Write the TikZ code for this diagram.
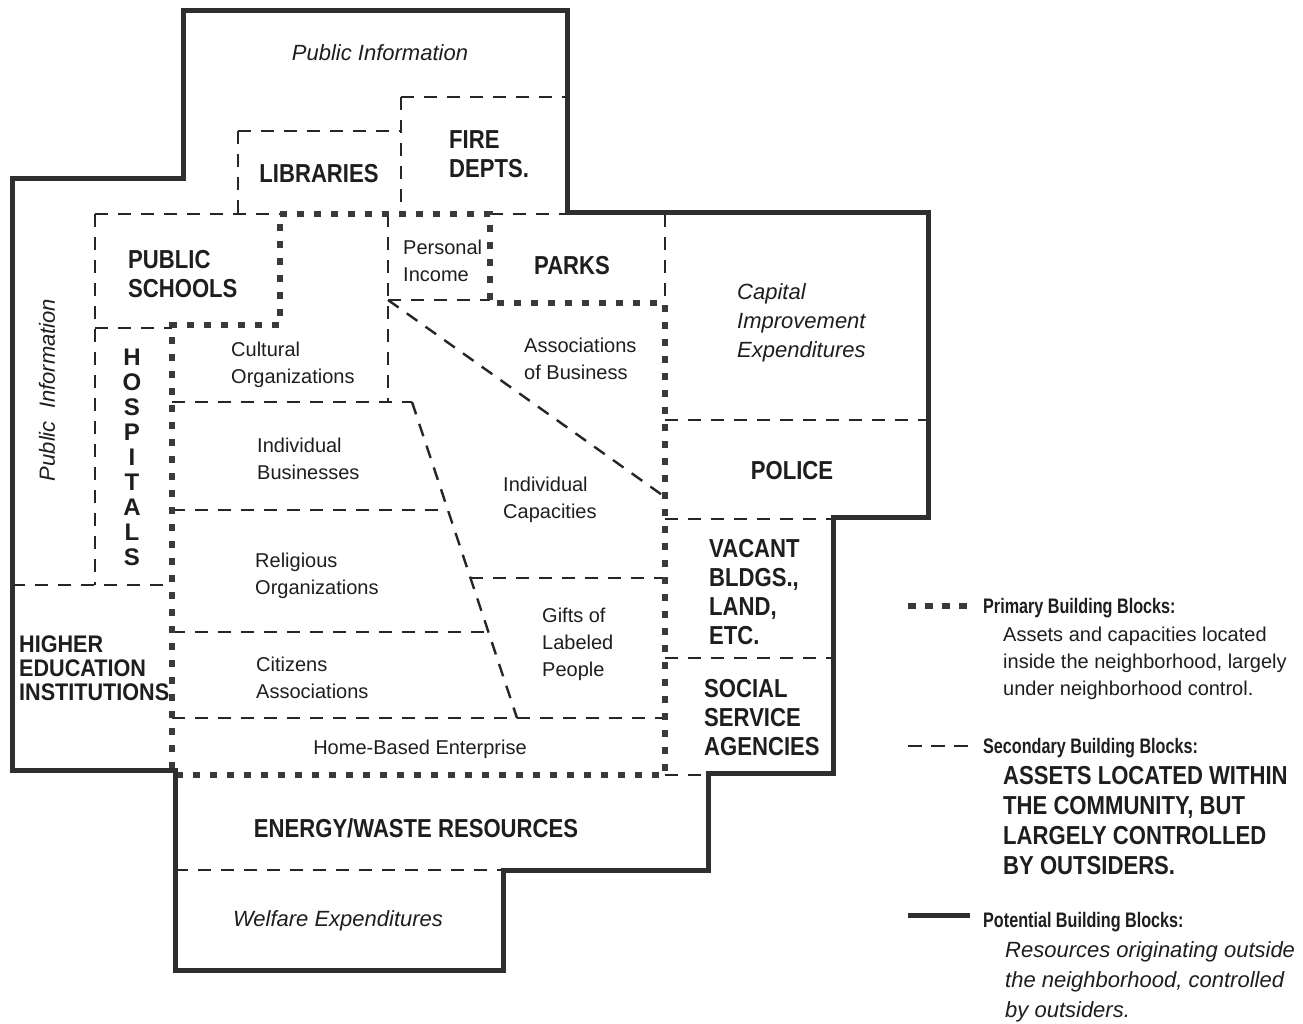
\documentclass[tikz,border=0pt]{standalone}
\usepackage{fontspec}
\setmainfont{Liberation Sans}
\newfontfamily\bfcond[FakeStretch=0.85]{Liberation Sans}
\newfontfamily\hecond[FakeStretch=0.9]{Liberation Sans}
\newfontfamily\legcond[FakeStretch=0.77]{Liberation Sans}
\definecolor{solidc}{HTML}{2E2E2E}
\definecolor{dashc}{HTML}{262626}
\definecolor{dotc}{HTML}{3A3A3A}
\definecolor{txt}{HTML}{1E1E1E}
\tikzset{
  potential/.style={line width=5pt, draw=solidc, line join=miter},
  secondary/.style={line width=2.4pt, draw=dashc, dash pattern=on 13pt off 10pt},
  primary/.style={line width=6.5pt, draw=dotc, dash pattern=on 7pt off 10pt},
  reg/.style={font=\fontsize{20}{27}\selectfont, inner sep=0pt, align=left, anchor=north west, text=txt},
  regc/.style={font=\fontsize{20}{27}\selectfont, inner sep=0pt, align=center, text=txt},
  bld/.style={font=\bfcond\bfseries\fontsize{26}{29}\selectfont, inner sep=0pt, align=left, anchor=north west, text=txt},
  bldc/.style={font=\bfcond\bfseries\fontsize{26}{29}\selectfont, inner sep=0pt, align=center, text=txt},
  itl/.style={font=\itshape\fontsize{22}{29}\selectfont, inner sep=0pt, align=left, anchor=north west, text=txt},
  itlc/.style={font=\itshape\fontsize{22}{29}\selectfont, inner sep=0pt, align=center, text=txt},
  legtitle/.style={font=\legcond\bfseries\fontsize{21}{24}\selectfont, inner sep=0pt, anchor=base west, text=txt},
}
\begin{document}
\begin{tikzpicture}[x=1pt,y=-1pt]
\useasboundingbox[fill=white] (0,0) rectangle (1303,1023);

% ---------- secondary (dashed) lines ----------
\draw[secondary] (401,97) -- (567,97);
\draw[secondary] (401,97) -- (401,214);
\draw[secondary] (238,131) -- (401,131);
\draw[secondary] (238,131) -- (238,214);
\draw[secondary] (95,214) -- (280,214);
\draw[secondary] (490,214) -- (567,214);
\draw[secondary] (95,214) -- (95,585);
\draw[secondary] (95,328) -- (172,328);
\draw[secondary] (12,585) -- (172,585);
\draw[secondary] (388,214) -- (388,402);
\draw[secondary] (388,300) -- (490,300);
\draw[secondary] (665,214) -- (665,303);
\draw[secondary] (172,402) -- (412,402);
\draw[secondary] (412,402) -- (517,718);
\draw[secondary] (172,510) -- (448,510);
\draw[secondary] (172,632) -- (488,632);
\draw[secondary] (470,578) -- (665,578);
\draw[secondary] (172,718) -- (665,718);
\draw[secondary] (388,300) -- (665,497);
\draw[secondary] (665,420) -- (928,420);
\draw[secondary] (665,519) -- (833,519);
\draw[secondary] (665,658) -- (833,658);
\draw[secondary] (665,775) -- (708,775);
\draw[secondary] (175,870) -- (503,870);

% ---------- primary (dotted) boundary ----------
\draw[primary] (280,214) -- (490,214) -- (490,303) -- (665,303) -- (665,775)
   -- (172,775) -- (172,325) -- (280,325) -- cycle;

% ---------- potential (solid) outline ----------
\draw[potential] (183,10) -- (567,10) -- (567,212) -- (928,212) -- (928,517)
   -- (833,517) -- (833,773) -- (708,773) -- (708,870) -- (503,870) -- (503,970)
   -- (175,970) -- (175,770) -- (12,770) -- (12,178) -- (183,178) -- cycle;

% ---------- labels ----------
\node[itlc] (pubinfotop) at (380,53) {Public Information};
\node[bldc] (libraries) at (319,174) {LIBRARIES};
\node[bld] (fire) at (449,130) {FIRE\\DEPTS.};
\node[bld] (pubschools) at (128,250) {PUBLIC\\SCHOOLS};
\node[reg] (income) at (403,240) {Personal\\Income};
\node[bldc] (parks) at (572,266) {PARKS};
\node[itl] (capital) at (737,283) {Capital\\Improvement\\Expenditures};
\node[itlc, rotate=90] (pubinfoleft) at (47,390) {Public\ \ Information};
\node[bldc, font=\bfseries\fontsize{24}{25}\selectfont, anchor=north] (hospitals) at (132,349)
   {H\\O\\S\\P\\I\\T\\A\\L\\S};
\node[reg] (cultural) at (231,342) {Cultural\\Organizations};
\node[reg] (assocbus) at (524,338) {Associations\\of Business};
\node[reg] (indbus) at (257,438) {Individual\\Businesses};
\node[reg] (indcap) at (503,477) {Individual\\Capacities};
\node[bldc] (police) at (792,471) {POLICE};
\node[bld] (vacant) at (709,539) {VACANT\\BLDGS.,\\LAND,\\ETC.};
\node[reg] (religious) at (255,553) {Religious\\Organizations};
\node[reg] (gifts) at (542,608) {Gifts of\\Labeled\\People};
\node[bld, font=\hecond\bfseries\fontsize{24}{24}\selectfont] (higher) at (19,636)
   {HIGHER\\EDUCATION\\INSTITUTIONS};
\node[reg] (citizens) at (256,657) {Citizens\\Associations};
\node[bld] (social) at (704,679) {SOCIAL\\SERVICE\\AGENCIES};
\node[regc] (home) at (420,749) {Home-Based Enterprise};
\node[bldc] (energy) at (416,828) {ENERGY/WASTE RESOURCES};
\node[itlc] (welfare) at (338,921) {Welfare Expenditures};

% ---------- legend ----------
\coordinate (lpA) at (908,606); \coordinate (lpB) at (967,606);
\draw[primary, dash pattern=on 8pt off 9pt] (lpA) -- (lpB);
\node[legtitle] (legprim) at (983,613) {Primary Building Blocks:};
\node[reg] (legprimtxt) at (1003,627)
  {Assets and capacities located\\inside the neighborhood, largely\\under neighborhood control.};

\coordinate (lsA) at (908,746); \coordinate (lsB) at (968,746);
\draw[secondary, dash pattern=on 14pt off 9pt] (lsA) -- (lsB);
\node[legtitle] (legsec) at (983,753) {Secondary Building Blocks:};
\node[bld, font=\bfcond\bfseries\fontsize{26}{30}\selectfont] (legsectxt) at (1003,766)
  {ASSETS LOCATED WITHIN\\THE COMMUNITY, BUT\\LARGELY CONTROLLED\\BY OUTSIDERS.};

\coordinate (ltA) at (908,915); \coordinate (ltB) at (970,915);
\draw[potential] (ltA) -- (ltB);
\node[legtitle] (legpot) at (983,927) {Potential Building Blocks:};
\node[itl, font=\itshape\fontsize{22}{30}\selectfont] (legpottxt) at (1005,941)
  {Resources originating outside\\the neighborhood, controlled\\by outsiders.};
\end{tikzpicture}
\end{document}
